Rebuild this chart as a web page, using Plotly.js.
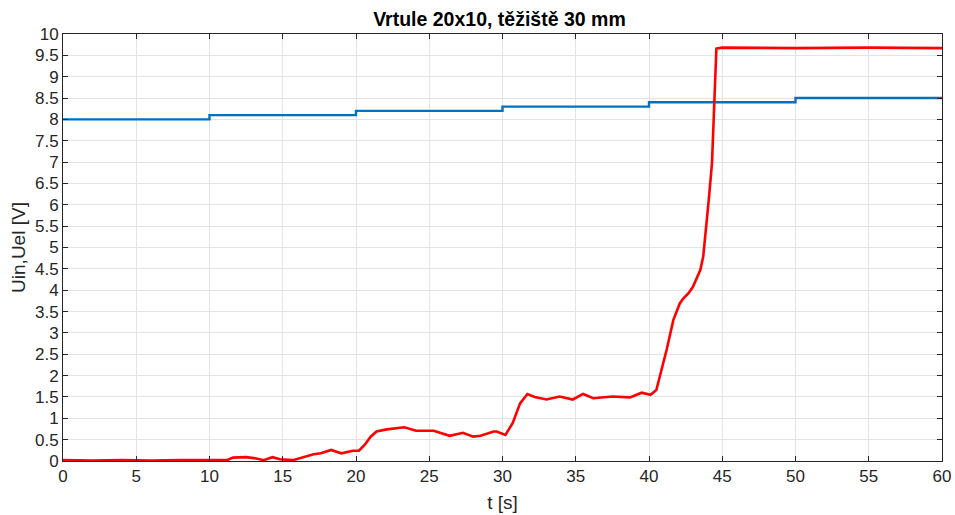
<!DOCTYPE html>
<html><head><meta charset="utf-8">
<script src="https://cdn.plot.ly/plotly-3.0.1.min.js"></script>
<style>html,body{margin:0;padding:0;background:#fff}#chart{width:955px;height:515px}</style>
</head><body><div id="chart"></div>
<script>
const titleText = "Vrtule 20x10, těžiště 30 mm";
const xLabel = "t [s]";
const yLabel = "Uin,Uel [V]";

const uinTime = [0, 10, 20, 30, 40, 50, 60];
const uinValue = [8.0, 8.1, 8.2, 8.3, 8.4, 8.5, 8.52];

const uelTime = [0, 2, 4, 6, 8, 10, 11.2, 11.6, 12.5, 13.2, 13.7, 14.3, 14.8, 15.7, 16.2, 17.1, 17.6, 18.3, 19.0, 19.5, 19.8, 20.2, 20.6, 21.0, 21.4, 22.1, 23.3, 24.1, 25.3, 26.4, 27.3, 28.0, 28.5, 29.4, 29.6, 30.2, 30.7, 31.2, 31.7, 32.2, 33.0, 33.9, 34.8, 35.5, 36.2, 37.5, 38.7, 39.5, 40.1, 40.5, 40.98, 41.2, 41.66, 42.1, 42.35, 42.7, 43.0, 43.5, 43.7, 43.9, 44.1, 44.3, 44.39, 44.46, 44.6, 45, 50, 55, 60];
const uelValue = [0.02, 0.01, 0.02, 0.01, 0.02, 0.01, 0.02, 0.08, 0.09, 0.06, 0.02, 0.09, 0.04, 0.02, 0.07, 0.16, 0.18, 0.26, 0.18, 0.22, 0.24, 0.24, 0.38, 0.57, 0.69, 0.74, 0.79, 0.71, 0.71, 0.59, 0.66, 0.57, 0.59, 0.69, 0.69, 0.61, 0.89, 1.35, 1.57, 1.5, 1.44, 1.51, 1.44, 1.57, 1.47, 1.51, 1.49, 1.6, 1.55, 1.66, 2.29, 2.6, 3.3, 3.69, 3.81, 3.93, 4.08, 4.47, 4.78, 5.41, 6.19, 6.98, 7.75, 8.53, 9.66, 9.68, 9.67, 9.68, 9.67];

const xTicks = [0,5,10,15,20,25,30,35,40,45,50,55,60];
const yTicks = [0,0.5,1,1.5,2,2.5,3,3.5,4,4.5,5,5.5,6,6.5,7,7.5,8,8.5,9,9.5,10];

const fontFam = "'Liberation Sans Narrow', 'Liberation Sans', Arial, sans-serif";
const traces = [
  {x: uinTime, y: uinValue, type: 'scatter', mode: 'lines', line: {color: '#0072BD', width: 2.4, shape: 'hv'}, hoverinfo: 'skip'},
  {x: uelTime, y: uelValue, type: 'scatter', mode: 'lines', line: {color: '#FF0000', width: 2.6}, hoverinfo: 'skip'}
];
const axisCommon = {
  showline: true, mirror: 'ticks', linecolor: '#262626', linewidth: 1,
  ticks: 'inside', ticklen: 5, tickcolor: '#262626', tickwidth: 1,
  showgrid: true, gridcolor: '#e3e3e3', gridwidth: 1, zeroline: false,
  tickfont: {family: fontFam, size: 17, color: '#262626'}
};
const layout = {
  width: 955, height: 515,
  margin: {l: 63, r: 13, t: 34, b: 54},
  paper_bgcolor: '#fff', plot_bgcolor: '#fff',
  showlegend: false,
  title: {text: '<b>' + titleText + '</b>', x: 0.523, xanchor: 'center', y: 0.963, yanchor: 'middle', font: {family: fontFam, size: 19.5, color: '#000'}},
  xaxis: Object.assign({}, axisCommon, {range: [0, 60], tickvals: xTicks, ticktext: xTicks.map(String),
    title: {text: xLabel, font: {family: fontFam, size: 19, color: '#262626'}, standoff: 10}}),
  yaxis: Object.assign({}, axisCommon, {range: [0, 10], tickvals: yTicks, ticktext: yTicks.map(String),
    title: {text: yLabel, font: {family: fontFam, size: 19, color: '#262626'}, standoff: 4}})
};
Plotly.newPlot('chart', traces, layout, {staticPlot: true, displayModeBar: false});
</script></body></html>
